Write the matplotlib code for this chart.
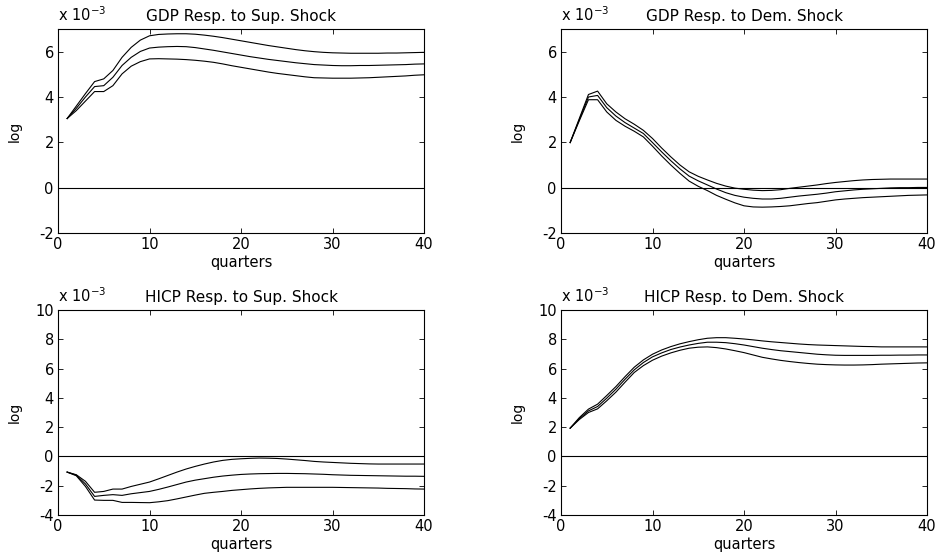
import matplotlib
matplotlib.use("Agg")
import matplotlib.pyplot as plt

plt.rcParams['font.family'] = ['DejaVu Sans']
plt.rcParams['axes.unicode_minus'] = False

quarters = list(range(1, 41))

# impulse responses, in units of 1e-3 (upper band, point estimate, lower band)
gdp_sup_hi = [3.05, 3.60, 4.15, 4.68, 4.80, 5.17, 5.75, 6.19, 6.51, 6.70,
              6.76, 6.78, 6.79, 6.79, 6.77, 6.73, 6.68, 6.62, 6.55, 6.48,
              6.41, 6.34, 6.27, 6.21, 6.15, 6.09, 6.04, 6.00, 5.97, 5.95,
              5.94, 5.93, 5.93, 5.93, 5.93, 5.94, 5.94, 5.95, 5.96, 5.97]
gdp_sup_mid = [3.05, 3.50, 4.00, 4.46, 4.50, 4.87, 5.39, 5.75, 6.01, 6.16,
               6.20, 6.22, 6.23, 6.22, 6.18, 6.12, 6.06, 5.99, 5.92, 5.85,
               5.78, 5.72, 5.66, 5.61, 5.56, 5.51, 5.47, 5.43, 5.41, 5.39,
               5.38, 5.38, 5.39, 5.39, 5.40, 5.41, 5.42, 5.43, 5.45, 5.46]
gdp_sup_lo = [3.05, 3.40, 3.82, 4.24, 4.24, 4.50, 5.02, 5.36, 5.56, 5.68,
              5.69, 5.68, 5.67, 5.65, 5.62, 5.58, 5.53, 5.46, 5.38, 5.31,
              5.24, 5.17, 5.10, 5.04, 4.99, 4.94, 4.89, 4.85, 4.84, 4.83,
              4.83, 4.83, 4.84, 4.85, 4.87, 4.89, 4.91, 4.93, 4.96, 4.98]

gdp_dem_hi = [1.99, 3.05, 4.11, 4.26, 3.70, 3.34, 3.04, 2.80, 2.53, 2.17,
              1.75, 1.36, 1.00, 0.70, 0.50, 0.34, 0.19, 0.07, -0.02, -0.07,
              -0.11, -0.13, -0.12, -0.09, -0.03, 0.02, 0.07, 0.12, 0.18, 0.23,
              0.27, 0.31, 0.34, 0.36, 0.37, 0.38, 0.38, 0.38, 0.38, 0.38]
gdp_dem_mid = [1.99, 3.00, 4.00, 4.07, 3.53, 3.16, 2.87, 2.63, 2.39, 1.99,
               1.58, 1.19, 0.83, 0.51, 0.30, 0.12, -0.06, -0.22, -0.34, -0.42,
               -0.47, -0.50, -0.50, -0.47, -0.42, -0.37, -0.33, -0.29, -0.24, -0.18,
               -0.14, -0.10, -0.07, -0.05, -0.03, -0.01, 0.00, 0.00, 0.01, 0.01]
gdp_dem_lo = [1.99, 2.95, 3.88, 3.88, 3.34, 2.97, 2.71, 2.49, 2.24, 1.83,
              1.40, 1.00, 0.63, 0.29, 0.06, -0.13, -0.34, -0.51, -0.67, -0.80,
              -0.85, -0.86, -0.85, -0.83, -0.80, -0.75, -0.70, -0.66, -0.60, -0.54,
              -0.50, -0.47, -0.44, -0.42, -0.40, -0.38, -0.36, -0.34, -0.33, -0.32]

hicp_sup_hi = [-1.07, -1.25, -1.70, -2.45, -2.39, -2.23, -2.23, -2.05, -1.90, -1.75,
               -1.53, -1.30, -1.07, -0.86, -0.68, -0.52, -0.38, -0.27, -0.20, -0.16,
               -0.13, -0.11, -0.12, -0.14, -0.18, -0.23, -0.28, -0.34, -0.38, -0.41,
               -0.44, -0.47, -0.49, -0.51, -0.52, -0.52, -0.52, -0.52, -0.52, -0.52]
hicp_sup_mid = [-1.07, -1.28, -1.88, -2.73, -2.66, -2.61, -2.66, -2.55, -2.47, -2.39,
                -2.25, -2.09, -1.92, -1.75, -1.62, -1.52, -1.42, -1.34, -1.28, -1.23,
                -1.20, -1.18, -1.17, -1.16, -1.16, -1.17, -1.18, -1.20, -1.22, -1.25,
                -1.27, -1.29, -1.30, -1.31, -1.32, -1.33, -1.34, -1.35, -1.35, -1.36]
hicp_sup_lo = [-1.07, -1.32, -2.05, -2.98, -3.00, -3.00, -3.14, -3.14, -3.15, -3.16,
               -3.10, -3.02, -2.90, -2.77, -2.64, -2.52, -2.45, -2.39, -2.32, -2.27,
               -2.22, -2.18, -2.15, -2.13, -2.11, -2.11, -2.11, -2.11, -2.11, -2.11,
               -2.12, -2.13, -2.14, -2.15, -2.16, -2.18, -2.19, -2.20, -2.22, -2.23]

hicp_dem_hi = [1.93, 2.65, 3.23, 3.57, 4.16, 4.77, 5.45, 6.09, 6.59, 6.98,
               7.27, 7.50, 7.69, 7.84, 7.97, 8.07, 8.11, 8.11, 8.07, 8.02,
               7.96, 7.89, 7.83, 7.78, 7.73, 7.68, 7.64, 7.61, 7.59, 7.57,
               7.55, 7.53, 7.51, 7.50, 7.48, 7.48, 7.48, 7.48, 7.48, 7.48]
hicp_dem_mid = [1.93, 2.58, 3.11, 3.41, 3.98, 4.59, 5.27, 5.91, 6.41, 6.80,
                7.07, 7.30, 7.47, 7.61, 7.72, 7.80, 7.80, 7.77, 7.70, 7.61,
                7.50, 7.39, 7.30, 7.22, 7.16, 7.10, 7.04, 6.98, 6.94, 6.91,
                6.90, 6.90, 6.90, 6.90, 6.91, 6.91, 6.92, 6.92, 6.93, 6.93]
hicp_dem_lo = [1.93, 2.52, 3.00, 3.25, 3.80, 4.39, 5.07, 5.73, 6.20, 6.57,
               6.85, 7.07, 7.25, 7.39, 7.46, 7.48, 7.43, 7.34, 7.22, 7.09,
               6.93, 6.77, 6.66, 6.56, 6.48, 6.41, 6.35, 6.30, 6.27, 6.25,
               6.24, 6.24, 6.25, 6.27, 6.30, 6.32, 6.34, 6.36, 6.38, 6.39]

titles = ["GDP Resp. to Sup. Shock", "GDP Resp. to Dem. Shock",
          "HICP Resp. to Sup. Shock", "HICP Resp. to Dem. Shock"]
series = [(gdp_sup_hi, gdp_sup_mid, gdp_sup_lo),
          (gdp_dem_hi, gdp_dem_mid, gdp_dem_lo),
          (hicp_sup_hi, hicp_sup_mid, hicp_sup_lo),
          (hicp_dem_hi, hicp_dem_mid, hicp_dem_lo)]
ylims = [(-2, 7), (-2, 7), (-4, 10), (-4, 10)]
yticks = [range(-2, 7, 2), range(-2, 7, 2), range(-4, 11, 2), range(-4, 11, 2)]

fig = plt.figure(figsize=(9.38, 5.56), dpi=100)
W, H = 938, 556
# axes boxes in pixels: left, top, width, height
boxes = [(58, 29, 366, 204), (561, 29, 366, 204),
         (58, 310, 366, 205), (561, 310, 366, 205)]

for i in range(4):
    x0, y0, w, h = boxes[i]
    ax = fig.add_axes([x0 / W, 1 - (y0 + h) / H, w / W, h / H])
    for s in series[i]:
        ax.plot(quarters, s, color='black', lw=0.8)
    ax.axhline(0, color='black', lw=0.8)
    ax.set_xlim(0, 40)
    ax.set_ylim(*ylims[i])
    ax.set_xticks(range(0, 41, 10))
    ax.set_yticks(list(yticks[i]))
    ax.tick_params(direction='in', top=True, right=True, length=3.6,
                   width=0.6, labelsize=10.5)
    ax.tick_params(axis='x', pad=3)
    ax.tick_params(axis='y', pad=3)
    for sp in ax.spines.values():
        sp.set_linewidth(0.8)
    ax.set_title(titles[i], fontsize=11, pad=6)
    ax.set_xlabel("quarters", fontsize=10.5, labelpad=2)
    ax.set_ylabel("log", fontsize=10)
    ax.yaxis.set_label_coords(-0.1, 0.5)
    ax.text(0, 1 + 8 / h, r"x 10$^{-3}$", transform=ax.transAxes,
            fontsize=10.5, ha='left', va='baseline')

fig.savefig("out.png", dpi=100)
